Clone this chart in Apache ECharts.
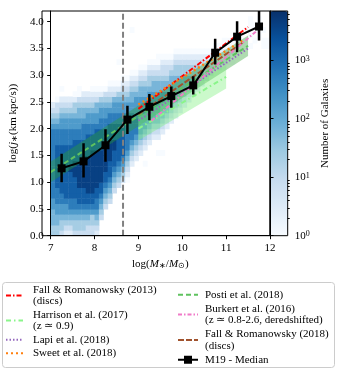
<!DOCTYPE html>
<html><head><meta charset="utf-8">
<script src="https://cdn.jsdelivr.net/npm/echarts@6/dist/echarts.min.js"></script>
<style>html,body{margin:0;padding:0;background:#fff}#c{width:338px;height:369px}</style>
</head><body><div id="c"></div>
<script>
// ---- 2D histogram (columns of 0.1 dex in log M*, rows of 0.1 dex in log j*, from bottom up)
// characters: '.' empty, '1'..'9' = count level
const heatCols = [
"4455566777|777777|7777|6543|2",
"4455667778|888888|8777|6543|31",
"3445667788|888888|8777|6654|32.1",
"2345667888|888888|8777|6654|32",
"2345677888|889888|8777|6654|32",
"3445677888|899988|8877|6654|421",
"3445678889|999988|8877|6655|4311",
"3445678889|999998|8877|7655|432",
"3345678899|999998|8887|7665|432",
"3344678899|999999|8887|7665|4321",
"2345677889|999999|8888|7665|5321",
"...3456788|999999|8888|7766|5421",
".....34567|889999|9888|7766|5431",
"......3456|788899|9988|8776|54321",
"........34|567888|9988|8776|65321",
".........3|456788|8888|8776|65421...1",
"..........|345678|8888|8776|654321",
"..........|123456|7777|7776|654321",
"..........|...234|5677|7776|6554321.......1",
"..........|....23|4567|7766|6654321",
"..........|.....2|3456|6666|66554321",
"..........|...1..|2345|6666|66554321",
"..........|......|.234|5666|666544321",
"..........|......|..23|4566|666554321",
"..........|.....1|..23|4556|6665543211",
"..........|.....1|...2|3455|5665543321",
"..........|......|....|2345|5565543321",
"..........|......|....|.234|5556554321",
"..........|......|....|..23|45555544321",
"..........|......|....|...2|34555544321",
"..........|......|....|....|23455544321",
"..........|......|....|....|.2345544321",
"..........|......|....|....|..234544321",
"..........|......|....|....|...23444321",
"..........|......|....|....|....2343321",
"..........|......|....|....|.....233321",
"..........|......|....|....|......23321",
"..........|......|....|....|.......23221",
"..........|......|....|....|.......22221",
"..........|......|....|....|.......122211",
"..........|......|....|....|........12211",
"..........|......|....|....|........11211",
"..........|......|....|....|.........11211",
"..........|......|....|....|..........1111",
"..........|......|....|....|...........11.1",
"..........|......|....|....|...........1.1.11",
"..........|......|....|....|............1.11",
"..........|......|....|....|.............1.11",
"..........|......|....|....|...........11.1",
"..........|......|....|....|...........11"
];
const heatXStart = 7.0, heatYStart = 0.0, binW = 0.1, binH = 0.1;
const levelLogCount = [0, 0.45, 0.9, 1.35, 1.8, 2.25, 2.7, 3.15, 3.6]; // log10(N) for levels 1..9
const colorbarMaxLog = 3.84;

// ---- median relation (M19)
const medX  = [7.25, 7.75, 8.25, 8.75, 9.25, 9.75, 10.25, 10.75, 11.25, 11.75];
const medY  = [1.26, 1.39, 1.69, 2.17, 2.41, 2.61, 2.81, 3.42, 3.72, 3.91];
const medLo = [1.00, 1.09, 1.38, 1.90, 2.16, 2.39, 2.64, 3.20, 3.43, 3.65];
const medHi = [1.53, 1.73, 1.99, 2.43, 2.65, 2.79, 2.98, 3.68, 4.01, 4.25];

// ---- literature relations
const fr13X = [9.0, 11.5],  fr13Y = [2.37, 3.90];
const harX  = [9.0, 11.0],  harY  = [2.00, 2.97], harLo = [1.78, 2.75], harHi = [2.22, 3.19];
const lapiX = [9.0, 11.5],  lapiY = [2.15, 3.50];
const sweetX = [9.0, 11.4], sweetY = [2.45, 3.66];
const postiX = [7.0, 11.5], postiY = [1.19, 3.55], postiLo = [1.00, 3.36], postiHi = [1.38, 3.74];
const burkX = [9.3, 11.7],  burkY = [2.15, 3.83];
const fr18X = [9.0, 11.4],  fr18Y = [2.27, 3.62];
const cutX = 8.65;

const xTicks = [7, 8, 9, 10, 11, 12];
const yTicks = [0, 0.5, 1, 1.5, 2, 2.5, 3, 3.5, 4];
const cbMajor = [0, 1, 2, 3];

// ---------------------------------------------------------------
const FONT = 'Liberation Serif';
const heatData = [];
heatCols.forEach((s, c) => {
  const col = s.replace(/\|/g, '');
  for (let r = 0; r < col.length; r++) {
    const ch = col[r];
    if (ch >= '1' && ch <= '9') {
      heatData.push([heatXStart + c * binW, heatYStart + r * binH, levelLogCount[+ch - 1]]);
    }
  }
});
const cbMinor = [];
for (let d = 0; d < 4; d++) for (let k = 2; k <= 9; k++) {
  const v = d + Math.log10(k); if (v <= colorbarMaxLog) cbMinor.push(v);
}
const blues = ['#f7fbff','#deebf7','#c6dbef','#9ecae1','#6baed6','#4292c6','#2171b5','#08519c','#08306b'];

const pts = (xs, ys) => xs.map((x, i) => [x, ys[i]]);
function lineSeries(name, xs, ys, color, type, width, z) {
  return { type: 'line', name, data: pts(xs, ys), symbol: 'none', showSymbol: false,
    lineStyle: { color, type, width, cap: 'butt' }, itemStyle: { color }, z, silent: true, clip: true };
}
function bandSeries(xs, lo, hi, color, opacity, z) {
  return { type: 'custom', silent: true, z, clip: true,
    data: xs.slice(0, -1).map((x, i) => [x, lo[i], hi[i], xs[i + 1], lo[i + 1], hi[i + 1]]),
    renderItem(params, api) {
      const a = api.coord([api.value(0), api.value(2)]);
      const b = api.coord([api.value(3), api.value(5)]);
      const c = api.coord([api.value(3), api.value(4)]);
      const d = api.coord([api.value(0), api.value(1)]);
      return { type: 'polygon', shape: { points: [a, b, c, d] }, style: { fill: color, opacity } };
    } };
}

const N_FR13 = 'Fall & Romanowsky (2013)', N_HAR = 'Harrison et al. (2017)', N_LAPI = 'Lapi et al. (2018)',
      N_SWEET = 'Sweet et al. (2018)', N_POSTI = 'Posti et al. (2018)', N_BURK = 'Burkert et al. (2016)',
      N_FR18 = 'Fall & Romanowsky (2018)', N_MED = 'M19 - Median';
const legendText = {};
legendText[N_FR13] = 'Fall & Romanowsky (2013)\n(discs)';
legendText[N_HAR] = 'Harrison et al. (2017)\n(z ≃ 0.9)';
legendText[N_LAPI] = 'Lapi et al. (2018)';
legendText[N_SWEET] = 'Sweet et al. (2018)';
legendText[N_POSTI] = 'Posti et al. (2018)';
legendText[N_BURK] = 'Burkert et al. (2016)\n(z ≃ 0.8-2.6, deredshifted)';
legendText[N_FR18] = 'Fall & Romanowsky (2018)\n(discs)';
legendText[N_MED] = 'M19 - Median';

const dashDot = [5, 2, 1.5, 2];
const series = [
  { type: 'custom', name: 'heat', silent: true, z: 1, clip: true, xAxisIndex: 0, yAxisIndex: 0,
    data: heatData, encode: { x: 0, y: 1 },
    renderItem(params, api) {
      const p = api.coord([api.value(0), api.value(1) + binH]);
      const q = api.coord([api.value(0) + binW, api.value(1)]);
      return { type: 'rect', shape: { x: p[0], y: p[1], width: q[0] - p[0] + 0.5, height: q[1] - p[1] + 0.5 },
        style: { fill: api.visual('color') } };
    } },
  bandSeries(postiX, postiLo, postiHi, '#2ca02c', 0.38, 3),
  bandSeries(harX, harLo, harHi, '#7cf07c', 0.4, 3),
  lineSeries('cut', [cutX, cutX], [0, 4.2], '#808080', [6, 3], 2, 4),
  lineSeries(N_POSTI, postiX, postiY, '#5fc25f', [5, 3], 2, 5),
  lineSeries(N_HAR, harX, harY, '#8af58a', [5, 3, 1.5, 3], 2, 5),
  lineSeries(N_FR13, fr13X, fr13Y, '#ff0000', dashDot, 2, 6),
  lineSeries(N_SWEET, sweetX, sweetY, '#ff7f0e', [2, 3], 2.5, 6),
  lineSeries(N_FR18, fr18X, fr18Y, '#a0522d', [6, 2], 2, 6),
  lineSeries(N_LAPI, lapiX, lapiY, '#9467bd', [1.5, 2], 2, 6),
  lineSeries(N_BURK, burkX, burkY, '#f07ac8', [4, 2, 1.5, 2], 2, 6),
  { type: 'custom', name: 'err', silent: true, z: 8, clip: true,
    data: medX.map((x, i) => [x, medLo[i], medHi[i]]),
    renderItem(params, api) {
      const a = api.coord([api.value(0), api.value(1)]);
      const b = api.coord([api.value(0), api.value(2)]);
      return { type: 'line', shape: { x1: a[0], y1: a[1], x2: b[0], y2: b[1] }, style: { stroke: '#000', lineWidth: 2.5 } };
    } },
  { type: 'line', name: N_MED, data: pts(medX, medY), symbol: 'rect', symbolSize: 8, showSymbol: true,
    lineStyle: { color: '#000', width: 2 }, itemStyle: { color: '#000' }, z: 9, silent: true, clip: true }
];

const richName = {
  t: { fontFamily: FONT, fontSize: 11, color: '#000' },
  i: { fontFamily: FONT, fontSize: 11, fontStyle: 'italic', color: '#000' },
  s: { fontFamily: FONT, fontSize: 8, color: '#000', verticalAlign: 'bottom', lineHeight: 9 }
};
const axisCommon = {
  axisLine: { show: true, lineStyle: { color: '#000', width: 1 } },
  axisTick: { show: true, inside: false, length: 3.5, lineStyle: { color: '#000', width: 1 } },
  splitLine: { show: false }
};
const noSym = n => ({ name: n, itemStyle: { opacity: 0 } });

const option = {
  animation: false,
  backgroundColor: '#fff',
  textStyle: { fontFamily: FONT },
  grid: [
    { left: 42, top: 11, width: 228, height: 224.7, show: false },
    { left: 270, top: 11, width: 17.7, height: 224.7, show: false }
  ],
  xAxis: [
    Object.assign({ gridIndex: 0, type: 'value', min: 7, max: 12, interval: 1, z: 10,
      axisLabel: { fontFamily: FONT, fontSize: 11, color: '#000', margin: 7 },
      name: '{t|log(}{i|M}{s|∗}{t|/}{i|M}{s|⊙}{t|)}', nameLocation: 'middle', nameGap: 20,
      nameTextStyle: { rich: richName } }, axisCommon),
    { gridIndex: 1, type: 'value', min: 0, max: 1, show: false }
  ],
  yAxis: [
    Object.assign({ gridIndex: 0, type: 'value', min: 0, max: 4.2, z: 10,
      axisLabel: { fontFamily: FONT, fontSize: 11, color: '#000', margin: 7, customValues: yTicks,
        formatter: v => v.toFixed(1) },
      name: '{t|log(}{i|j}{s|∗}{t|(km kpc/s))}', nameLocation: 'middle', nameGap: 31,
      nameTextStyle: { rich: richName } }, axisCommon,
      { axisTick: { show: true, inside: false, length: 3.5, customValues: yTicks, lineStyle: { color: '#000' } } }),
    { gridIndex: 1, type: 'value', min: 0, max: colorbarMaxLog, position: 'right', z: 10,
      axisLine: { show: true, lineStyle: { color: '#000' } },
      axisTick: { show: true, inside: false, length: 3.5, customValues: cbMajor, lineStyle: { color: '#000' } },
      axisLabel: { customValues: cbMajor, margin: 7, formatter: v => '{b|10}{p|' + Math.round(v) + '}',
        rich: { b: { fontFamily: FONT, fontSize: 11, color: '#000' },
                p: { fontFamily: FONT, fontSize: 8, color: '#000', verticalAlign: 'top', lineHeight: 9 } } },
      splitLine: { show: false },
      name: 'Number of Galaxies', nameLocation: 'middle', nameRotate: 90, nameGap: 32,
      nameTextStyle: { fontFamily: FONT, fontSize: 11, color: '#000' } },
    { gridIndex: 1, type: 'value', min: 0, max: colorbarMaxLog, position: 'right', z: 10,
      axisLine: { show: false },
      axisTick: { show: true, inside: false, length: 2, customValues: cbMinor, lineStyle: { color: '#000' } },
      axisLabel: { show: false }, splitLine: { show: false } }
  ],
  visualMap: {
    type: 'continuous', min: 0, max: colorbarMaxLog, dimension: 2, seriesIndex: 0,
    inRange: { color: blues }, left: 270, top: 11, itemWidth: 17.7, itemHeight: 224.7,
    padding: 0, calculable: false, text: null, hoverLink: false, orient: 'vertical'
  },
  legend: [
    { orient: 'vertical', left: 5, top: 284, padding: 0, itemGap: 2, itemWidth: 17, itemHeight: 10,
      selectedMode: false, data: [noSym(N_FR13), noSym(N_HAR), noSym(N_LAPI), noSym(N_SWEET)],
      formatter: n => legendText[n],
      textStyle: { fontFamily: FONT, fontSize: 11, color: '#000', lineHeight: 11.5, padding: [0, 0, 0, 5] } },
    { orient: 'vertical', left: 177, top: 289, padding: 0, itemGap: 2.5, itemWidth: 20, itemHeight: 10,
      selectedMode: false, data: [noSym(N_POSTI), noSym(N_BURK), noSym(N_FR18), { name: N_MED }],
      formatter: n => legendText[n],
      textStyle: { fontFamily: FONT, fontSize: 11, color: '#000', lineHeight: 11.5, padding: [0, 0, 0, 2] } }
  ],
  graphic: [
    { type: 'rect', z: 100, silent: true, shape: { x: 42, y: 11, width: 228, height: 224.7 },
      style: { fill: null, stroke: '#000', lineWidth: 1 } },
    { type: 'rect', z: 100, silent: true, shape: { x: 270, y: 11, width: 17.7, height: 224.7 },
      style: { fill: null, stroke: '#000', lineWidth: 1 } },
    { type: 'rect', z: 0, silent: true, shape: { x: 2.5, y: 282.5, width: 332, height: 85, r: 3 },
      style: { fill: '#fff', stroke: '#cccccc', lineWidth: 1 } }
  ],
  series
};
const chart = echarts.init(document.getElementById('c'), null, { renderer: 'canvas' });
chart.setOption(option);
</script></body></html>
